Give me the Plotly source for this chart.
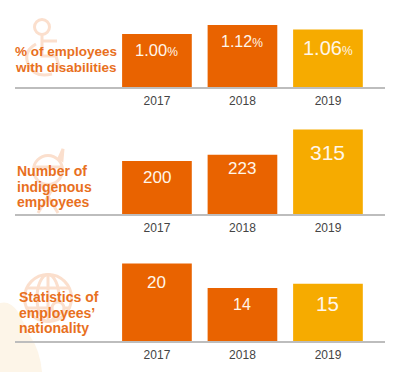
import plotly.graph_objects as go

W, H = 400, 372
years = [2017, 2018, 2019]
disabilities = [1.00, 1.12, 1.06]
indigenous = [200, 223, 315]
nationality = [20, 14, 15]
bar_colors = ["#E96300", "#E96300", "#F6AB00"]

titles = [
    ["% of employees", "with disabilities"],
    ["Number of", "indigenous", "employees"],
    ["Statistics of", "employees’", "nationality"],
]

ORANGE_TXT = "#E8701E"
ICON = "#FBDFCD"
BLOB = "#FDF5E8"
GRID = "#BDBDBD"


def px(x):
    return x / W


def py(y):
    return 1 - y / H


panels = [
    dict(vals=disabilities, base=87, top=10, lo=0.293, hi=1.32, ax="", sizes=[16.5, 16, 20],
         drops=[16, 17, 18.5], fmt="{:.2f}<span style='font-size:12px'>%</span>"),
    dict(vals=indigenous, base=214, top=120, lo=6.6, hi=349.7, ax="2", sizes=[17, 17, 21],
         drops=[16, 14, 22.5], fmt="{:d}"),
    dict(vals=nationality, base=341, top=250, lo=1.0, hi=23.3, ax="3", sizes=[17, 16, 20.5],
         drops=[19.5, 17, 19.5], fmt="{:d}"),
]

fig = go.Figure()
annotations = []
layout = {}
for p in panels:
    fig.add_trace(go.Bar(x=years, y=p["vals"], width=0.815, marker=dict(color=bar_colors, line_width=0),
                         xaxis="x" + p["ax"], yaxis="y" + p["ax"], showlegend=False, hoverinfo="skip"))
    layout["xaxis" + p["ax"]] = dict(
        domain=[px(15), px(385)], range=[2015.34, 2019.667], tickvals=years, ticktext=[str(y) for y in years],
        showgrid=False, zeroline=False, showline=True, linecolor=GRID, linewidth=1.5,
        ticks="outside", ticklen=2, tickcolor="rgba(0,0,0,0)",
        tickfont=dict(family="Liberation Sans", size=12, color="#444444"),
        anchor="y" + p["ax"],
    )
    layout["yaxis" + p["ax"]] = dict(
        domain=[py(p["base"]), py(p["top"])], range=[p["lo"], p["hi"]], visible=False,
        anchor="x" + p["ax"],
    )
    for x, v, s, d in zip(years, p["vals"], p["sizes"], p["drops"]):
        annotations.append(dict(
            x=x, y=v, xref="x" + p["ax"], yref="y" + p["ax"], yshift=-d, text=p["fmt"].format(v),
            showarrow=False, yanchor="middle", xanchor="center",
            font=dict(family="Liberation Sans", size=s, color="#FFF6EA"),
        ))

# left-hand titles
for lines, lx, ly, fs in zip(titles, [13, 15, 17], [52, 171, 297], [13.5, 14, 14]):
    for i, line in enumerate(lines):
        annotations.append(dict(
            x=px(lx), y=py(ly + i * 15.5), xref="paper", yref="paper", text=line, showarrow=False,
            xanchor="left", yanchor="middle", align="left",
            font=dict(family="Liberation Sans", size=fs, color=ORANGE_TXT, weight="bold"),
        ))


def circle(cx, cy, rx, ry=None, width=3, fill="rgba(0,0,0,0)", color=ICON):
    ry = rx if ry is None else ry
    return dict(type="circle", xref="paper", yref="paper", x0=px(cx - rx), x1=px(cx + rx), y0=py(cy + ry),
                y1=py(cy - ry), line=dict(color=color, width=width), fillcolor=fill, layer="below")


def seg(pts, width=3, color=ICON, fill=None, close=False):
    d = "M " + " L ".join(f"{px(x):.4f},{py(y):.4f}" for x, y in pts) + (" Z" if close else "")
    s = dict(type="path", xref="paper", yref="paper", path=d, line=dict(color=color, width=width), layer="below")
    if fill:
        s["fillcolor"] = fill
    return s


def curve(d_pts, width=3, color=ICON):
    start, rest = d_pts[0], d_pts[1:]
    d = f"M {px(start[0]):.4f},{py(start[1]):.4f}"
    for i in range(0, len(rest), 2):
        a, b = rest[i], rest[i + 1]
        d += f" Q {px(a[0]):.4f},{py(a[1]):.4f} {px(b[0]):.4f},{py(b[1]):.4f}"
    return dict(type="path", xref="paper", yref="paper", path=d, line=dict(color=color, width=width), layer="below")


shapes = [
    # background blob
    dict(type="path", xref="paper", yref="paper", layer="below", fillcolor=BLOB, line_width=0,
         path=f"M {px(0)},{py(303)} Q {px(10)},{py(300)} {px(18)},{py(312)} Q {px(25)},{py(325)} {px(30)},{py(336)}"
              f" Q {px(40)},{py(350)} {px(42)},{py(372)} L {px(0)},{py(372)} Z"),
    # wheelchair
    circle(42, 27, 7.5),
    seg([(42, 35), (42, 56), (56, 56), (60, 70)]),
    seg([(42, 41), (57, 41)]),
    curve([(36, 44), (22, 52), (29, 66), (35, 78), (52, 74)]),
    # indigenous person
    circle(48, 170, 14.5, 14.5),
    seg([(34, 167), (62, 167)]),
    seg([(59, 158), (63, 149), (62, 160)], fill=ICON, close=True),
    seg([(40, 183), (58, 213)]),
    seg([(56, 183), (38, 213)]),
    # globe
    circle(48, 298, 23.5),
    circle(48, 298, 11, 23.5),
    seg([(48, 274), (48, 322)]),
    seg([(27, 288), (69, 288)]),
    seg([(27, 308), (69, 308)]),
    circle(58, 308, 6, width=3, fill="#FFFFFF"),
]

fig.update_layout(
    width=W, height=H, margin=dict(l=0, r=0, t=0, b=0), autosize=False,
    paper_bgcolor="white", plot_bgcolor="rgba(0,0,0,0)", showlegend=False,
    annotations=annotations, shapes=shapes, **layout,
)
fig.write_html("out.html", config=dict(displayModeBar=False),
               post_script="document.body.style.margin='0';document.documentElement.style.overflow='hidden';")
